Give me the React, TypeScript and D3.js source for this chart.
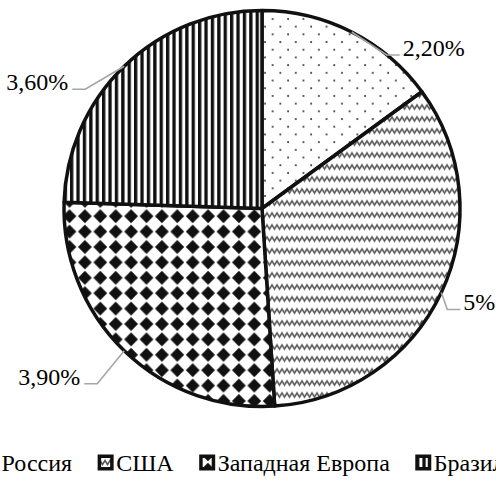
import React, { useMemo } from 'react';
import * as d3 from 'd3';

// ---- data ----
const categories = ['Россия', 'США', 'Западная Европа', 'Бразилия'];
const values = [2.2, 5, 3.9, 3.6];
const valueLabels = ['2,20%', '5%', '3,90%', '3,60%'];
const patternNames = ['dots', 'waves', 'diamonds', 'stripes'];

// ---- layout ----
const W = 496;
const H = 493;
const CX = 262;
const CY = 208.5;
const R = 198;
// elbow offset of each leader line from its point on the arc
const labelOffsets: [number, number][] = [[35, 23], [6, 17], [-27, 33], [-39, 23]];
const LEADER_H = 13;
const FONT_FAMILY = '"Liberation Serif"';
const FONT_SIZE = 24;
const LEGEND_BASELINE = 471;
const LEGEND_CENTER = 256;
const LEGEND_GAP = 26;
const ICON = 15;

function measure(text: string): number {
  const c = document.createElement('canvas').getContext('2d');
  if (!c) return text.length * 11;
  c.font = `${FONT_SIZE}px ${FONT_FAMILY}`;
  return c.measureText(text).width;
}

export default function App() {
  const pie = d3.pie<number>().sort(null).value((d) => d);
  const arcs = pie(values);
  const arc = d3.arc<d3.PieArcDatum<number>>().innerRadius(0).outerRadius(R);

  const legendItems = useMemo(() => {
    const widths = categories.map(measure);
    const itemW = widths.map((w) => ICON + 3 + w);
    const total = d3.sum(itemW) + LEGEND_GAP * (categories.length - 1);
    let x = LEGEND_CENTER - total / 2;
    return categories.map((c, i) => {
      const item = { c, i, x };
      x += itemW[i] + LEGEND_GAP;
      return item;
    });
  }, []);

  return (
    <svg width={W} height={H} style={{ position: 'absolute', left: 0, top: 0, background: '#fff' }}>
      <defs>
        <pattern id="dots" patternUnits="userSpaceOnUse" width={15.4} height={15.4}>
          <rect width={15.4} height={15.4} fill="#fff" />
          <circle cx={3} cy={3} r={1} fill="#333" />
          <circle cx={10.7} cy={10.7} r={1} fill="#333" />
        </pattern>
        <pattern id="waves" patternUnits="userSpaceOnUse" width={10} height={12}>
          <rect width={10} height={12} fill="#fff" />
          <path d="M-2.5,8.5 L0,4.5 L2.5,8.5 L5,4.5 L7.5,8.5 L10,4.5 L12.5,8.5" fill="none" stroke="#555" strokeWidth={1.5} />
        </pattern>
        <pattern id="diamonds" patternUnits="userSpaceOnUse" width={15.4} height={15.4}>
          <rect width={15.4} height={15.4} fill="#fff" />
          <path d="M7.7,0.8 L14.6,7.7 L7.7,14.6 L0.8,7.7 Z" fill="#111" />
        </pattern>
        <pattern id="stripes" patternUnits="userSpaceOnUse" width={6.4} height={10}>
          <rect width={6.4} height={10} fill="#fff" />
          <rect x={0} width={3.3} height={10} fill="#111" />
        </pattern>
      </defs>

      <g transform={`translate(${CX},${CY})`}>
        {arcs.map((a, i) => (
          <path
            key={i}
            d={arc(a) || ''}
            fill={`url(#${patternNames[i]})`}
            stroke="#111"
            strokeWidth={3.5}
            strokeLinejoin="round"
          />
        ))}
      </g>

      {arcs.map((a, i) => {
        const mid = (a.startAngle + a.endAngle) / 2;
        const px = CX + R * Math.sin(mid);
        const py = CY - R * Math.cos(mid);
        const [ox, oy] = labelOffsets[i];
        const ex = px + ox;
        const ey = py + oy;
        const right = Math.sin(mid) > 0;
        const hx = right ? ex + LEADER_H : ex - LEADER_H;
        return (
          <g key={`l${i}`}>
            <polyline
              points={`${px},${py} ${ex},${ey} ${hx},${ey}`}
              fill="none"
              stroke="#a6a6a6"
              strokeWidth={1.6}
            />
            <text
              x={right ? hx + 3 : hx - 4}
              y={ey + 1}
              textAnchor={right ? 'start' : 'end'}
              fill="#000"
              fontSize={FONT_SIZE}
              style={{ fontFamily: FONT_FAMILY }}
            >
              {valueLabels[i]}
            </text>
          </g>
        );
      })}

      <g>
        {legendItems.map(({ c, i, x }) => (
          <g key={`lg${i}`}>
            <rect
              x={x + 1.25}
              y={LEGEND_BASELINE - ICON + 0.25}
              width={ICON - 2.5}
              height={ICON - 2.5}
              fill={`url(#${patternNames[i]})`}
              stroke="#111"
              strokeWidth={3.5}
            />
            <text
              x={x + ICON + 3}
              y={LEGEND_BASELINE}
              fill="#000"
              fontSize={FONT_SIZE}
              style={{ fontFamily: FONT_FAMILY }}
            >
              {c}
            </text>
          </g>
        ))}
      </g>
    </svg>
  );
}
